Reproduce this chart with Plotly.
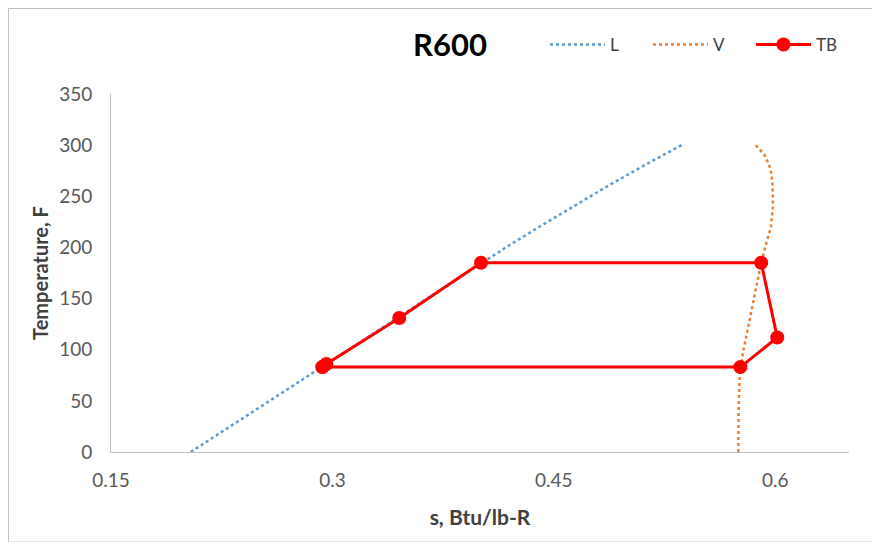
import plotly.graph_objects as go

# Saturated liquid line (L)
L_T = [0, 20, 40, 60, 80, 100, 120, 140, 160, 180, 200, 220, 240, 260, 280, 300]
L_s = [0.2040, 0.2255, 0.2470, 0.2684, 0.2900, 0.3112, 0.3323, 0.3534, 0.3745, 0.3955,
       0.4175, 0.4400, 0.4630, 0.4865, 0.5110, 0.5365]

# Saturated vapor line (V)
V_T = [0, 20, 40, 60, 80, 100, 120, 140, 160, 180, 200, 220, 240, 250, 260, 272, 280, 290, 300]
V_s = [0.5750, 0.5750, 0.5752, 0.5756, 0.5761, 0.5786, 0.5814, 0.5842, 0.5870, 0.5898,
       0.5932, 0.5971, 0.5985, 0.5986, 0.5982, 0.5975, 0.5960, 0.5930, 0.5868]

# Cycle (TB)
TB_s = [0.2932, 0.2959, 0.3453, 0.4007, 0.5905, 0.6014, 0.5764, 0.2932]
TB_T = [83, 86, 131, 185, 185, 112, 83, 83]

FONT = "Lato, 'Open Sans', sans-serif"
OFF = 8  # page body margin

fig = go.Figure()
fig.add_trace(go.Scatter(x=L_s, y=L_T, mode="lines", name="L",
                         line=dict(color="#5B9BD5", width=2.5, dash="dot")))
fig.add_trace(go.Scatter(x=V_s, y=V_T, mode="lines", name="V",
                         line=dict(color="#ED7D31", width=2.5, dash="dot")))
fig.add_trace(go.Scatter(x=TB_s, y=TB_T, mode="lines+markers", name="TB",
                         line=dict(color="#FF0000", width=3),
                         marker=dict(color="#FF0000", size=14)))

W, H = 880 - OFF, 548 - OFF
px = lambda x: (x - 111) / 738   # page px -> paper x
py = lambda y: (452 - y) / 358   # page px -> paper y
frame = dict(color="#BFBFBF", width=1)
fig.update_layout(
    width=W, height=H,
    margin=dict(l=111 - OFF, r=31, t=94 - OFF, b=96, autoexpand=False),
    paper_bgcolor="white", plot_bgcolor="white",
    font=dict(family=FONT, size=17, color="#595959"),
    title=dict(text="<b>R600</b>", x=(450 - OFF) / W, xanchor="center",
               y=1 - (45 - OFF) / H, yanchor="middle",
               font=dict(family=FONT, size=31, color="#000000")),
    showlegend=True,
    legend=dict(orientation="h", x=px(545), xanchor="left",
                y=py(45), yanchor="middle",
                font=dict(family=FONT, size=17, color="#404040"),
                bgcolor="rgba(0,0,0,0)", itemwidth=55, entrywidth=33),
    xaxis=dict(range=[0.15, 0.65], tickvals=[0.15, 0.3, 0.45, 0.6],
               ticktext=["0.15", "0.3", "0.45", "0.6"], automargin=False,
               showgrid=False, zeroline=False, showline=True, linecolor="#BFBFBF",
               linewidth=1, ticks="outside", ticklen=11, tickcolor="rgba(0,0,0,0)",
               tickfont=dict(size=19, color="#595959"),
               title=dict(text="<b>s, Btu/lb-R</b>", standoff=20,
                          font=dict(family=FONT, size=21, color="#404040"))),
    yaxis=dict(range=[0, 350], dtick=50, showgrid=False, zeroline=False, automargin=False,
               showline=True, linecolor="#BFBFBF", linewidth=1,
               ticks="outside", ticklen=14, tickcolor="rgba(0,0,0,0)",
               tickfont=dict(size=19, color="#595959"),
               title=dict(text="<b>Temperature, F</b>", standoff=5,
                          font=dict(family=FONT, size=20, color="#404040"))),
    shapes=[
        dict(type="line", xref="paper", yref="paper", x0=px(8.5), x1=px(881),
             y0=py(8.5), y1=py(8.5), line=frame, layer="below"),
        dict(type="line", xref="paper", yref="paper", x0=px(8.5), x1=px(8.5),
             y0=py(8.5), y1=py(541.5), line=frame, layer="below"),
        dict(type="line", xref="paper", yref="paper", x0=px(8.5), x1=px(881),
             y0=py(541.5), y1=py(541.5), line=dict(color="#E6E6E6", width=1), layer="below"),
    ],
)

fig.write_html("out.html")
